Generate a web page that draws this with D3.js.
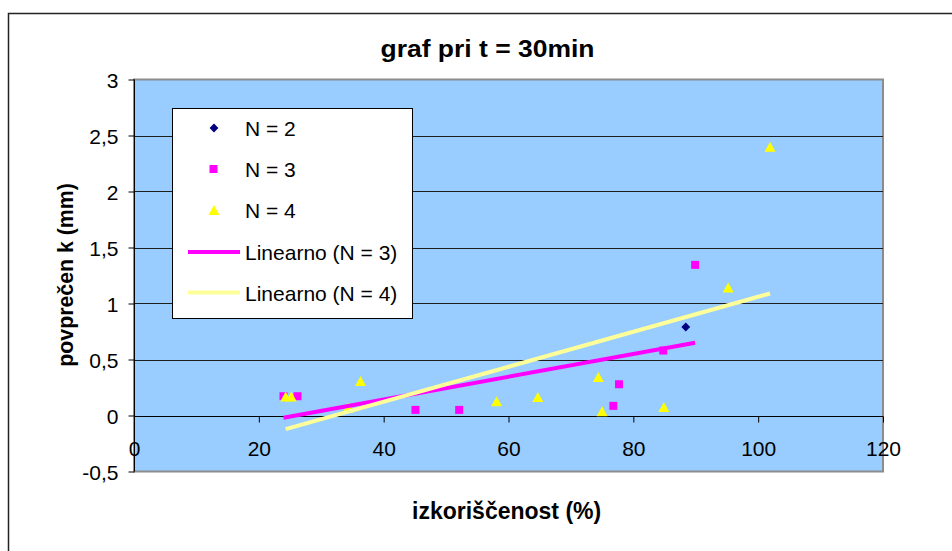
<!DOCTYPE html>
<html>
<head>
<meta charset="utf-8">
<script src="https://cdn.jsdelivr.net/npm/d3@7"></script>
<style>
  html, body { margin: 0; padding: 0; background: #fff; }
  svg { display: block; }
  text { font-family: "Liberation Sans", Arial, sans-serif; fill: #000; }
</style>
</head>
<body>
<svg id="chart" width="952" height="551"></svg>
<script>
// Measured series: utilisation (%) vs. mean k (mm)
const n2X = [88.4];
const n2Y = [0.79];

const n3X = [23.95, 26.2, 45.1, 52.1, 76.8, 77.7, 84.8, 89.9];
const n3Y = [0.172, 0.172, 0.05, 0.05, 0.086, 0.279, 0.58, 1.345];

const n4X = [24.3, 25.2, 34.3, 36.3, 58.1, 64.7, 74.4, 75.0, 84.9, 95.2, 101.9];
const n4Y = [0.17, 0.17, 0.07, 0.309, 0.127, 0.166, 0.344, 0.038, 0.077, 1.143, 2.40];

const xTicks = [0, 20, 40, 60, 80, 100, 120];
const yTicks = [-0.5, 0, 0.5, 1, 1.5, 2, 2.5, 3];

const titleText = "graf pri t = 30min";
const xTitle = "izkoriščenost (%)";
const yTitle = "povprečen k (mm)";
const legendLabels = ["N = 2", "N = 3", "N = 4", "Linearno (N = 3)", "Linearno (N = 4)"];

const FONT = '"Liberation Sans", Arial, sans-serif';
const svg = d3.select("#chart");

const plot = { left: 134, right: 883, top: 79.5, bottom: 471.5 };
const x = d3.scaleLinear().domain([0, 120]).range([plot.left, plot.right]);
const y = d3.scaleLinear().domain([-0.5, 3]).range([plot.bottom, plot.top]);
const fmt = v => String(v).replace(".", ",");

// outer chart frame (top and left edges)
svg.append("path")
  .attr("d", "M8.5,551 V13.5 H952")
  .attr("fill", "none").attr("stroke", "#222").attr("stroke-width", 1.5);

// plot area
svg.append("rect")
  .attr("x", plot.left).attr("y", plot.top)
  .attr("width", plot.right - plot.left).attr("height", plot.bottom - plot.top)
  .attr("fill", "#99CCFF").attr("stroke", "#8c8c8c").attr("stroke-width", 2);

// horizontal gridlines
svg.append("g").selectAll("line")
  .data(yTicks.filter(v => v > 0 && v < 3))
  .join("line")
  .attr("x1", plot.left).attr("x2", plot.right)
  .attr("y1", d => Math.round(y(d)) + 0.5).attr("y2", d => Math.round(y(d)) + 0.5)
  .attr("stroke", "#1e1e1e").attr("stroke-width", 1);

// y axis
const yAxis = d3.axisLeft(y).tickValues(yTicks).tickFormat(fmt).tickSize(6).tickPadding(10);
const gy = svg.append("g").attr("transform", `translate(${plot.left + 0.5},0)`).call(yAxis);
gy.select(".domain").attr("stroke", "#000").attr("d", `M0,${plot.top}V${plot.bottom}`);
gy.selectAll(".tick line").attr("stroke", "#000");
gy.selectAll(".tick text").attr("font-size", 21).attr("font-family", FONT).attr("fill", "#000")
  .attr("dy", "0.36em");

// x axis along y = 0
const xAxis = d3.axisBottom(x).tickValues(xTicks).tickFormat(d => d).tickSize(6).tickPadding(19);
const gx = svg.append("g").attr("transform", `translate(0,${Math.round(y(0)) + 0.5})`).call(xAxis);
gx.select(".domain").attr("stroke", "#000").attr("d", `M${plot.left},0H${plot.right}`);
gx.selectAll(".tick line").attr("stroke", "#000");
gx.selectAll(".tick text").attr("font-size", 21).attr("font-family", FONT).attr("fill", "#000");

// marker shapes
const diamond = d3.symbol().type(d3.symbolDiamond2).size(50);
const square = s => `M${-s / 2},${-s / 2}h${s}v${s}h${-s}z`;
const tri = (w, h) => `M0,${-h / 2}L${w / 2},${h / 2}L${-w / 2},${h / 2}z`;

const pts = (xs, ys) => xs.map((v, i) => [v, ys[i]]);

svg.append("g").selectAll("path").data(pts(n2X, n2Y)).join("path")
  .attr("transform", d => `translate(${x(d[0])},${y(d[1])})`)
  .attr("d", diamond).attr("fill", "#000080");

svg.append("g").selectAll("path").data(pts(n3X, n3Y)).join("path")
  .attr("transform", d => `translate(${x(d[0])},${y(d[1])})`)
  .attr("d", square(8)).attr("fill", "#FF00FF");

svg.append("g").selectAll("path").data(pts(n4X, n4Y)).join("path")
  .attr("transform", d => `translate(${x(d[0])},${y(d[1])})`)
  .attr("d", tri(11, 10)).attr("fill", "#FFFF00");

// least-squares trendlines over each series' x range
function fit(xs, ys) {
  const mx = d3.mean(xs), my = d3.mean(ys);
  const sxy = d3.sum(xs, (v, i) => (v - mx) * (ys[i] - my));
  const sxx = d3.sum(xs, v => (v - mx) ** 2);
  const b = sxy / sxx, a = my - b * mx;
  const [x0, x1] = d3.extent(xs);
  return [[x0, a + b * x0], [x1, a + b * x1]];
}
const line = d3.line().x(d => x(d[0])).y(d => y(d[1]));
svg.append("path").attr("d", line(fit(n3X, n3Y)))
  .attr("stroke", "#FF00FF").attr("stroke-width", 4).attr("fill", "none");
svg.append("path").attr("d", line(fit(n4X, n4Y)))
  .attr("stroke", "#FFFF99").attr("stroke-width", 4).attr("fill", "none");

// legend
const lg = svg.append("g");
lg.append("rect").attr("x", 172.5).attr("y", 108.5).attr("width", 240).attr("height", 210)
  .attr("fill", "#fff").attr("stroke", "#000").attr("stroke-width", 1);
const rowY = [128, 169, 210, 252, 292.5];
lg.append("path").attr("transform", `translate(214,${rowY[0]})`).attr("d", diamond).attr("fill", "#000080");
lg.append("path").attr("transform", `translate(213.5,${rowY[1]})`).attr("d", square(8)).attr("fill", "#FF00FF");
lg.append("path").attr("transform", `translate(214,${rowY[2]})`).attr("d", tri(11, 10)).attr("fill", "#FFFF00");
lg.append("line").attr("x1", 188).attr("x2", 240).attr("y1", rowY[3]).attr("y2", rowY[3])
  .attr("stroke", "#FF00FF").attr("stroke-width", 4);
lg.append("line").attr("x1", 188).attr("x2", 240).attr("y1", rowY[4]).attr("y2", rowY[4])
  .attr("stroke", "#FFFF99").attr("stroke-width", 4);
lg.selectAll("text.lab").data(legendLabels).join("text").attr("class", "lab")
  .attr("x", 245).attr("y", (d, i) => rowY[i] + 8)
  .attr("font-size", 21).text(d => d);

// titles
svg.append("text").attr("x", 487.5).attr("y", 56.5).attr("text-anchor", "middle")
  .attr("font-size", 23).attr("font-weight", "bold")
  .attr("textLength", 214).attr("lengthAdjust", "spacingAndGlyphs").text(titleText);
svg.append("text").attr("x", 506.6).attr("y", 519).attr("text-anchor", "middle")
  .attr("font-size", 23).attr("font-weight", "bold").text(xTitle);
svg.append("text").attr("transform", "translate(72.7,275) rotate(-90)").attr("text-anchor", "middle")
  .attr("font-size", 21.3).attr("font-weight", "bold").text(yTitle);
</script>
</body>
</html>
